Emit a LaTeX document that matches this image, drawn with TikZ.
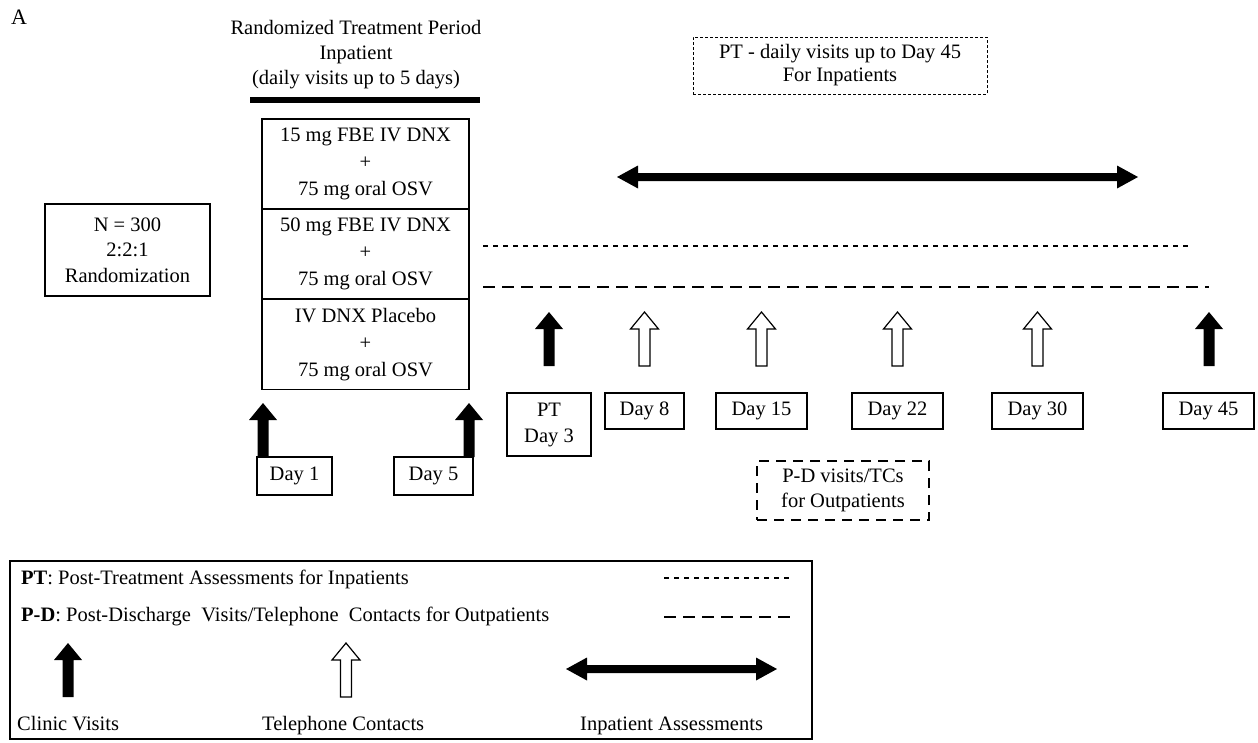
\documentclass[tikz,border=0pt]{standalone}
\usepackage{fontspec}
\setmainfont{Liberation Serif}
\newcommand{\dblarrow}[3]{%
  \fill[black] (#1,#3) -- ++(21,-11.5) -- ++(0,7.5) -- ({#2-21},{#3-4}) -- ++(0,-7.5) -- (#2,#3)
    -- ++(-21,11.5) -- ++(0,-7.5) -- ({#1+21},{#3+4}) -- ++(0,7.5) -- cycle;}
\tikzset{
  uparrow/.pic={\path[pic actions] (-5.5,0) -- (-5.5,-37) -- (-14,-37) -- (0,-54) -- (14,-37) -- (5.5,-37) -- (5.5,0) -- cycle;},
  blkarrow/.style={fill=black},
  whtarrow/.style={draw=black, fill=white, line width=1.2pt},
  box/.style={draw, line width=1.2pt, inner sep=0pt, align=center},
  cell/.style={box, minimum width=207, minimum height=90, font=\fontsize{20.5}{27}\selectfont},
  daybox/.style={box, minimum height=36},
  dotline/.style={line width=2pt, dash pattern=on 5pt off 5pt},
  dashline/.style={line width=2pt, dash pattern=on 12pt off 7pt},
  lbl/.style={anchor=base west},
}
\begin{document}
\begin{tikzpicture}[x=1pt,y=-1pt,
  every node/.style={font=\fontsize{20.5}{25}\selectfont, inner sep=0pt}]
\useasboundingbox (0,0) rectangle (1258,742);

\node[font=\fontsize{22}{25}\selectfont] (lblA) at (19,17) {A};
\node[align=center] (title) at (356,55) {Randomized Treatment Period\\Inpatient\\(daily visits up to 5 days)};
\draw[line width=6pt] (250,100) -- (480,100);

% treatment arms
\node[cell] (c1) at (365.5,164) {15 mg FBE IV DNX\\+\\75 mg oral OSV};
\node[cell] (c2) at (365.5,254) {50 mg FBE IV DNX\\+\\75 mg oral OSV};
\node[cell] (c3) at (365.5,344.5) {IV DNX Placebo\\+\\75 mg oral OSV};

\node[box, minimum width=165, minimum height=92, font=\fontsize{20.5}{25.5}\selectfont] (nbox) at (127.5,250) {N = 300\\2:2:1\\Randomization};

% day boxes
\node[box, minimum width=75, minimum height=38] (d1) at (294.5,476) {Day 1};
\node[box, minimum width=79, minimum height=38] (d5) at (433.5,476) {Day 5};
\node[box, minimum width=84, minimum height=63, font=\fontsize{20.5}{26}\selectfont] (d3) at (549,424.5) {PT\\Day 3};
\node[daybox, minimum width=79] (d8) at (644.5,411) {Day 8};
\node[daybox, minimum width=91] (d15) at (761.5,411) {Day 15};
\node[daybox, minimum width=91] (d22) at (897.5,411) {Day 22};
\node[daybox, minimum width=91] (d30) at (1037.5,411) {Day 30};
\node[daybox, minimum width=91] (d45) at (1208.5,411) {Day 45};

% arrows
\pic[blkarrow] at (263,457) {uparrow};
\pic[blkarrow] at (469,457) {uparrow};
\pic[blkarrow] at (549,366) {uparrow};
\pic[whtarrow] at (644.5,366) {uparrow};
\pic[whtarrow] at (761.5,366) {uparrow};
\pic[whtarrow] at (897.5,366) {uparrow};
\pic[whtarrow] at (1037.5,366) {uparrow};
\pic[blkarrow] at (1209,366) {uparrow};

% PT box and inpatient arrow
\node[box, line width=1pt, dash pattern=on 3pt off 2pt, minimum width=294, minimum height=57, font=\fontsize{20.5}{23}\selectfont] (ptbox) at (840,65.5) {PT - daily visits up to Day 45\\For Inpatients};
\dblarrow{617}{1138}{177}

\draw[dotline] (483,246) -- (1192,246);
\draw[dashline] (483,287) -- (1209,287);

\node[box, line width=2pt, dash pattern=on 10pt off 7pt, minimum width=172, minimum height=59] (pd) at (843,490.5) {P-D visits/TCs\\for Outpatients};

% legend
\node[draw, line width=1.2pt, minimum width=802, minimum height=178] (legend) at (411,650) {};
\node[lbl] (lpt) at (21,584) {\textbf{PT}: Post-Treatment Assessments for Inpatients};
\node[lbl] (lpd) at (21,621) {\textbf{P-D}: Post-Discharge\ \ Visits/Telephone\ \ Contacts for Outpatients};
\draw[dotline] (664,578) -- (790,578);
\draw[dashline] (664,617) -- (790,617);
\pic[blkarrow] at (68,697) {uparrow};
\pic[whtarrow] at (346,697) {uparrow};
\dblarrow{566}{777}{669}
\node[lbl] (lcv) at (17,730) {Clinic Visits};
\node[lbl] (ltc) at (262,730) {Telephone Contacts};
\node[lbl] (lia) at (580,730) {Inpatient Assessments};
\end{tikzpicture}
\end{document}
